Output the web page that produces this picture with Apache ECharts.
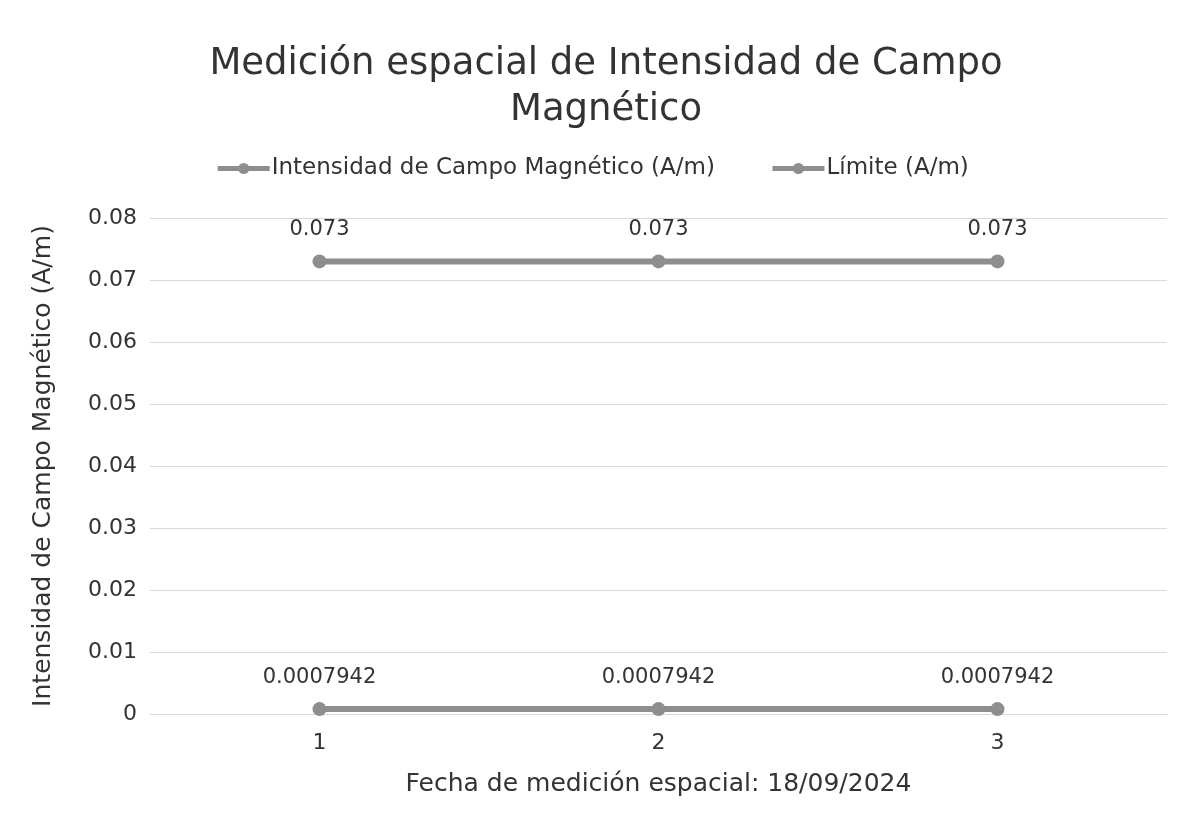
<!DOCTYPE html>
<html>
<head>
<meta charset="utf-8">
<script src="https://cdn.jsdelivr.net/npm/echarts@6/dist/echarts.min.js"></script>
<style>
  html, body { margin: 0; padding: 0; background: #fff; }
  #chart { width: 1184px; height: 827px; }
</style>
</head>
<body>
<div id="chart"></div>
<script>
// datos
var categorias = ['1', '2', '3']
var intensidad = [0.0007942, 0.0007942, 0.0007942]
var limite = [0.073, 0.073, 0.073]
var nombres = ['Intensidad de Campo Magnético (A/m)', 'Límite (A/m)']

var font = '"DejaVu Sans", sans-serif'
var gris = '#8e8e8e'

var chart = echarts.init(document.getElementById('chart'))

function serie(nombre, datos) {
  return {
    name: nombre,
    type: 'line',
    data: datos,
    symbol: 'circle',
    symbolSize: 14,
    lineStyle: { color: gris, width: 6 },
    itemStyle: { color: gris },
    label: {
      show: true,
      position: 'top',
      distance: 14,
      color: '#333',
      fontSize: 21,
      fontFamily: font,
      formatter: function (p) { return String(p.value) }
    }
  }
}

chart.setOption({
  animation: false,
  title: {
    text: 'Medición espacial de Intensidad de Campo\nMagnético',
    left: 601,
    textAlign: 'center',
    top: 36,
    textStyle: { fontSize: 37, fontWeight: 'normal', color: '#333', fontFamily: font, lineHeight: 46 }
  },
  legend: {
    data: nombres,
    top: 152,
    left: 'center',
    itemGap: 55,
    itemWidth: 52,
    itemHeight: 14,
    lineStyle: { width: 5 },
    textStyle: { fontSize: 23, color: '#333', fontFamily: font, padding: [0, 0, 0, -3] }
  },
  grid: { left: 150, right: 17, top: 218, bottom: 113 },
  xAxis: {
    type: 'category',
    data: categorias,
    boundaryGap: true,
    axisLine: { show: true, lineStyle: { color: '#d9d9d9' } },
    axisTick: { show: false },
    axisLabel: { fontSize: 22, color: '#333', fontFamily: font, margin: 18 },
    name: 'Fecha de medición espacial: 18/09/2024',
    nameLocation: 'middle',
    nameGap: 58,
    nameTextStyle: { fontSize: 25, color: '#333', fontFamily: font }
  },
  yAxis: {
    type: 'value',
    min: 0,
    max: 0.08,
    interval: 0.01,
    axisLine: { show: false },
    axisTick: { show: false },
    splitLine: { lineStyle: { color: '#d9d9d9' } },
    axisLabel: { fontSize: 22, color: '#333', fontFamily: font, margin: 13 },
    name: 'Intensidad de Campo Magnético (A/m)',
    nameLocation: 'middle',
    nameGap: 94,
    nameTextStyle: { fontSize: 25, color: '#333', fontFamily: font }
  },
  series: [serie(nombres[0], intensidad), serie(nombres[1], limite)]
})
</script>
</body>
</html>
